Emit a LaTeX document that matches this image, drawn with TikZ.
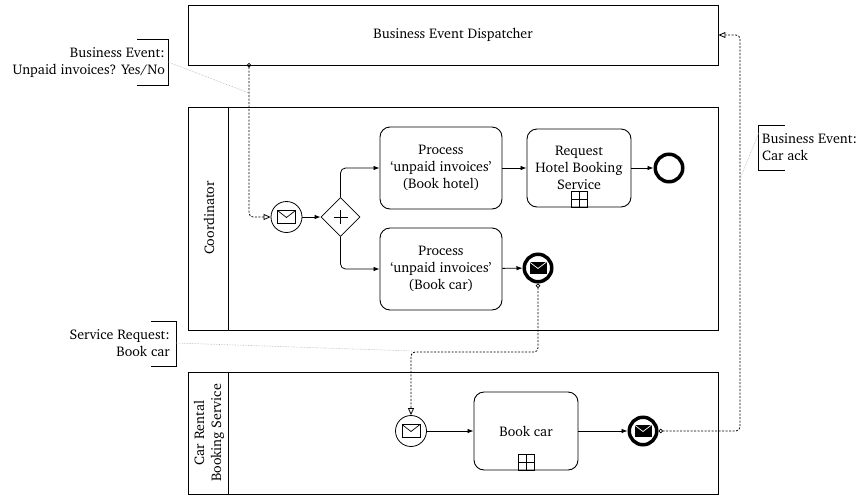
\documentclass[tikz,border=0pt]{standalone}
\usepackage[T1]{fontenc}
\usepackage{charter}
\usetikzlibrary{arrows.meta,shapes.geometric,calc}

\tikzset{
  mailopen/.pic={
    \draw[line width=0.7pt] (-9,-6.5) rectangle (9,6.5);
    \draw[line width=0.7pt] (-9,-6.5) -- (0,0.5) -- (9,-6.5);
  },
  mailfilled/.pic={
    \fill (-8.5,-6) rectangle (8.5,6);
    \draw[white,line width=0.7pt] (-8.5,-6) -- (0,0.5) -- (8.5,-6);
  },
}

\begin{document}
\begin{tikzpicture}[x=1pt,y=-1pt,
  font=\fontsize{14}{17}\selectfont,
  pool/.style={draw,line width=0.9pt,rectangle,inner sep=0},
  task/.style={draw,line width=0.9pt,rounded corners=10pt,align=center,inner sep=2pt},
  evt/.style={draw,circle,inner sep=0,minimum size=31pt,line width=0.8pt},
  endevt/.style={draw,circle,inner sep=0,minimum size=27.5pt,line width=3.5pt},
  gateway/.style={draw,diamond,aspect=1,inner sep=0,minimum width=39pt,minimum height=39pt,line width=0.8pt},
  seq/.style={-{Latex[length=6pt,width=4.5pt]},line width=0.8pt,rounded corners=5pt},
  msg/.style={dash pattern=on 2pt off 1.5pt,line width=0.8pt,{Circle[open,length=4.5pt]}-{Triangle[open,length=7pt,width=6pt]},rounded corners=4pt},
  assoc/.style={gray!60,densely dotted,line width=0.6pt},
  bracket/.style={line width=0.9pt},
  subproc/.style={line width=0.8pt},
]
\useasboundingbox (0,0) rectangle (867,496);

% pools
\node[pool,minimum width=530pt,minimum height=60pt] (disp) at (453,35) {Business Event Dispatcher};
\node[pool,minimum width=530pt,minimum height=223pt] (coord) at (453,218.5) {};
\node[pool,minimum width=530pt,minimum height=122pt] (car) at (453,433) {};
\draw[line width=0.9pt] ($(coord.north west)+(41,0)$) -- ($(coord.south west)+(41,0)$);
\draw[line width=0.9pt] ($(car.north west)+(41,0)$) -- ($(car.south west)+(41,0)$);
\node[rotate=90] (lcoord) at (209,218) {Coordinator};
\node[rotate=90,align=center] (lcar) at (209,433) {Car Rental\\Booking Service};

% coordinator lane
\node[evt] (startA) at (286.5,217) {};
\pic at (startA) {mailopen};
\node[gateway] (gw) at (340.5,217) {};
\draw[line width=0.6pt] ($(gw)+(-7,0)$) -- ($(gw)+(7,0)$) ($(gw)+(0,-7)$) -- ($(gw)+(0,7)$);
\node[task,minimum width=122pt,minimum height=82pt] (hotel) at (441,168) {Process\\`unpaid invoices'\\(Book hotel)};
\node[task,minimum width=122pt,minimum height=82pt] (pcar) at (441,269) {Process\\`unpaid invoices'\\(Book car)};
\node[task,minimum width=104pt,minimum height=78pt] (req) at (579,168) {Request\\Hotel Booking\\Service};
\draw[subproc] ($(req.south)+(-8,0)$) rectangle ($(req.south)+(8,-16)$);
\draw[subproc] ($(req.south)+(-8,-8)$) -- ($(req.south)+(8,-8)$) ($(req.south)$) -- ($(req.south)+(0,-16)$);
\node[endevt] (endA) at (669,168) {};
\node[endevt] (carEnd) at (538,268) {};
\pic at (carEnd) {mailfilled};

\draw[seq] (startA) -- (gw);
\draw[seq] (gw.north) |- (hotel.west);
\draw[seq] (gw.south) |- (pcar.west);
\draw[seq] (hotel) -- (req);
\draw[seq] (req) -- (endA);
\draw[seq] (pcar) -- (carEnd);

% car rental lane
\node[evt] (startB) at (411,431) {};
\pic at (startB) {mailopen};
\node[task,minimum width=104pt,minimum height=78pt] (book) at (526,431) {Book car};
\draw[subproc] ($(book.south)+(-8,0)$) rectangle ($(book.south)+(8,-16)$);
\draw[subproc] ($(book.south)+(-8,-8)$) -- ($(book.south)+(8,-8)$) ($(book.south)$) -- ($(book.south)+(0,-16)$);
\node[endevt] (bookEnd) at (643,431) {};
\pic at (bookEnd) {mailfilled};

\draw[seq] (startB) -- (book);
\draw[seq] (book) -- (bookEnd);

% message flows
\coordinate (mA) at (249,63);
\coordinate (yB) at (0,352);
\coordinate (xC) at (740,0);
\draw[msg] (mA) |- (startA);
\draw[msg] (carEnd.south) -- (carEnd.south |- yB) -| (startB.north);
\draw[msg] (bookEnd.east) -| (xC |- disp.east) -- (disp.east);

% annotations
\node[anchor=east,align=right,inner sep=0] (n1) at (165,62) {Business Event:\\Unpaid invoices? Yes/No};
\draw[bracket] (137,39) -- (168,39) -- (168,85) -- (137,85);
\coordinate (n1a) at (168,62);
\coordinate (n1b) at (249,93);
\draw[assoc] (n1a) -- (n1b);

\node[anchor=east,align=right,inner sep=0] (n2) at (170,343) {Service Request:\\Book car};
\draw[bracket] (151,321) -- (176,321) -- (176,366) -- (151,366);
\coordinate (n2a) at (176,343);
\coordinate (n2b) at (413,351);
\draw[assoc] (n2a) -- (n2b);

\node[anchor=west,align=left,inner sep=0] (n3) at (762,147) {Business Event:\\Car ack};
\draw[bracket] (785,125) -- (758,125) -- (758,170) -- (785,170);
\coordinate (n3a) at (758.7,133);
\coordinate (n3b) at (739.5,180);
\draw[assoc] (n3a) -- (n3b);
\end{tikzpicture}
\end{document}
